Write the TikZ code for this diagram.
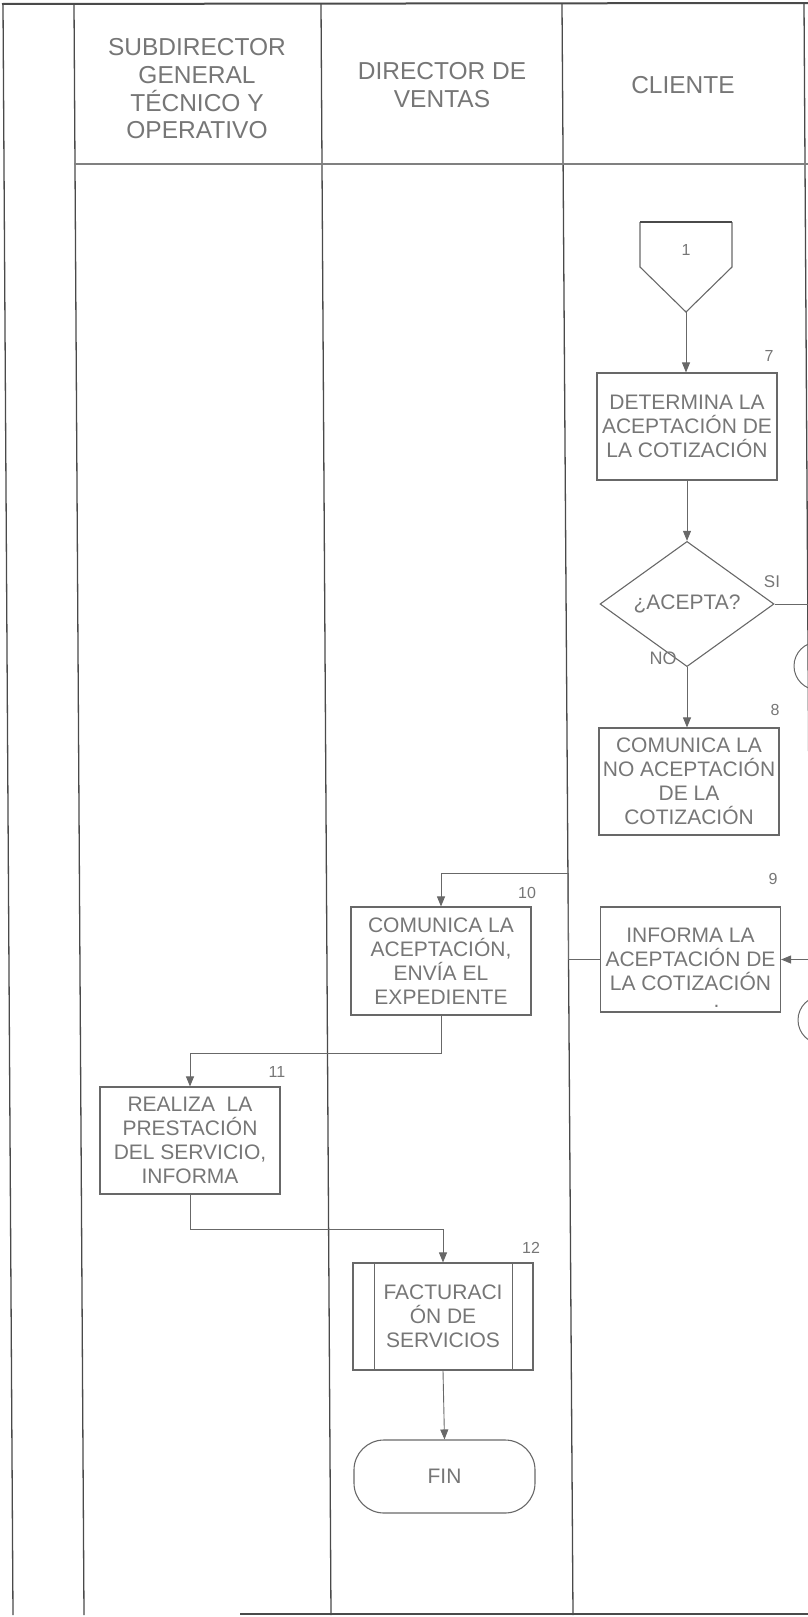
\documentclass[tikz,border=0pt]{standalone}
\usepackage{fontspec}
\setmainfont{Liberation Sans}
\usetikzlibrary{shapes.geometric,arrows.meta}
\definecolor{linec}{HTML}{4A4A4A}
\definecolor{boxc}{HTML}{686868}
\definecolor{txtc}{HTML}{767676}
\begin{document}
\begin{tikzpicture}[x=1pt,y=-1pt,
  frame/.style={draw=linec, line width=1.3pt},
  proc/.style={draw=boxc, line width=1.1pt, minimum width=180pt, minimum height=107pt, inner sep=0pt, align=center, text=txtc, font=\fontsize{21}{24}\selectfont},
  num/.style={text=txtc, font=\fontsize{16}{18}\selectfont, inner sep=0pt},
  lbl/.style={text=txtc, font=\fontsize{17}{19}\selectfont, inner sep=0pt},
  hdr/.style={text=txtc, align=center, font=\fontsize{24.5}{27.7}\selectfont, inner sep=0pt},
  conn/.style={draw=boxc, line width=0.9pt},
  arr/.style={conn, -{Triangle[length=10pt,width=8pt]}},
  cnct/.style={draw=boxc, circle, minimum size=48pt, line width=1pt, inner sep=0pt},
]
\useasboundingbox (0,0) rectangle (808,1617);
% frame and lanes
\draw[frame, line width=2pt] (2,4) -- (808,3);
\draw[frame] (3,4) -- (13,1615);
\draw[frame] (74,4) -- (84,1615);
\draw[frame] (321,4) -- (331,1615);
\draw[frame] (562,4) -- (573,1615);
\draw[frame] (804,3) -- (814,1615);
\draw[frame] (240,1614) -- (812,1614);
\draw[draw=gray, line width=1.4pt] (74,164) -- (808,164);
% headers
\node[hdr] (h1) at (197,89) {SUBDIRECTOR\\GENERAL\\TÉCNICO Y\\OPERATIVO};
\node[hdr] (h2) at (442,85) {DIRECTOR DE\\VENTAS};
\node[hdr] (h3) at (683,85) {CLIENTE};
% off-page connector 1
\draw[draw=boxc, line width=1.1pt] (640,222) -- (640,267) -- (686,312) -- (732,267) -- (732,222);
\draw[draw=linec, line width=1.8pt] (640,222) -- (732,222);
\coordinate (c1tip) at (686,312);
\node[num] (c1) at (686,250) {1};
% process boxes
\node[proc] (b7) at (687,426.5) {DETERMINA LA\\ACEPTACIÓN DE\\LA COTIZACIÓN};
\node[draw=boxc, line width=1.1pt, shape=diamond, minimum width=174pt, minimum height=105pt, inner sep=0pt, text=txtc, font=\fontsize{21}{24}\selectfont] (d) at (687,604) {¿ACEPTA?};
\node[proc] (b8) at (689,781.5) {COMUNICA LA\\NO ACEPTACIÓN\\DE LA\\COTIZACIÓN};
\node[proc, minimum height=105pt] (b9) at (690.5,959.5) {\rule{0pt}{15pt}\\[-9pt]INFORMA LA\\ACEPTACIÓN DE\\LA COTIZACIÓN\\[-7pt]\hspace*{52pt}.};
\node[proc, minimum height=108pt] (b10) at (441,961) {COMUNICA LA\\ACEPTACIÓN,\\ENVÍA EL\\EXPEDIENTE};
\node[proc] (b11) at (190,1140.5) {REALIZA\ \ LA\\PRESTACIÓN\\DEL SERVICIO,\\INFORMA};
\node[proc] (b12) at (443,1316.5) {FACTURACI\\ÓN DE\\SERVICIOS};
\draw[draw=boxc, line width=1.1pt] ([xshift=22pt]b12.north west) -- ([xshift=22pt]b12.south west);
\draw[draw=boxc, line width=1.1pt] ([xshift=-21pt]b12.north east) -- ([xshift=-21pt]b12.south east);
\node[draw=boxc, line width=1.1pt, minimum width=181pt, minimum height=73pt, rounded corners=30pt, inner sep=0pt, text=txtc, font=\fontsize{21}{24}\selectfont] (fin) at (444.5,1476.5) {FIN};
% connectors (cut by the page edge)
\node[cnct] (k1) at (818,666) {};
\node[cnct] (k2) at (822,1020) {};
% step numbers
\node[num] (n7) at (769,356) {7};
\node[num] (n8) at (775,710) {8};
\node[num] (n9) at (773,879) {9};
\node[num] (n10) at (527,893) {10};
\node[num] (n11) at (277,1072) {11};
\node[num] (n12) at (531,1248) {12};
% flow
\draw[arr] (c1tip) -- (c1tip |- b7.north);
\draw[arr] (b7.south) -- (d.north);
\draw[arr] (d.south) -- (d.south |- b8.north);
\node[lbl] (si) at (772,582) {SI};
\node[lbl, font=\fontsize{18}{20}\selectfont] (no) at (663,658) {NO};
\coordinate (siend) at (812,604);
\draw[conn] (d.east) -- (siend);
\coordinate (in9) at (812,959.5);
\draw[arr] (in9) -- (b9.east);
\coordinate (j1) at (568,873);
\draw[arr] (b9.west) -| (j1) -| (b10.north);
\coordinate (j2) at (441,1053);
\draw[arr] (b10.south) -- (j2) -| (b11.north);
\coordinate (j3) at (190,1229);
\draw[arr] (b11.south) -- (j3) -| (b12.north);
\draw[arr] (b12.south) -- (fin.north);
\end{tikzpicture}
\end{document}
